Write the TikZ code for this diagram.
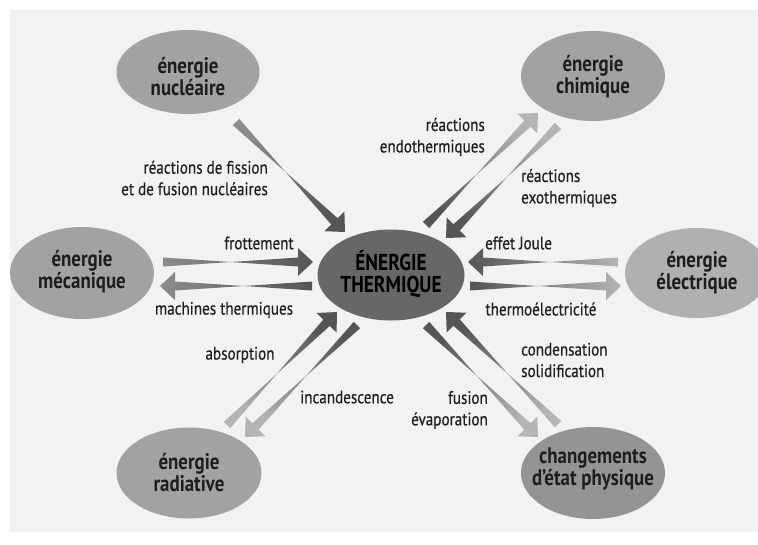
\documentclass[tikz,border=0pt]{standalone}
\usepackage{fontspec}
\setmainfont[FakeStretch=0.84]{PT Sans}
\newfontfamily\lblfont[FakeStretch=0.84, FakeBold=0.4]{PT Sans}
\usetikzlibrary{shapes.geometric,calc}
\definecolor{panel}{HTML}{F2F2F2}
\definecolor{bubble}{HTML}{A2A2A2}
\definecolor{bubbledark}{HTML}{949494}
\definecolor{central}{HTML}{676767}
\definecolor{txt}{HTML}{1E1E1E}
\definecolor{adark}{HTML}{555555}
\definecolor{amid}{HTML}{8C8C8C}
\definecolor{alight}{HTML}{B4B4B4}
% #1 from, #2 to, #3 colour at from, #4 colour at to, #5 shading angle
\newcommand\garrow[5]{%
  \coordinate (hb) at ($(#2)!15pt!(#1)$);
  \shade[shading=axis, top color=#4, bottom color=#3, shading angle=#5]
    ($(#1)!4.5pt!90:(#2)$) -- ($(hb)!4.5pt!-90:(#2)$) -- ($(hb)!14pt!-90:(#2)$)
    -- (#2) -- ($(hb)!14pt!90:(#2)$) -- ($(hb)!4.5pt!90:(#2)$)
    -- ($(#1)!4.5pt!-90:(#2)$) -- cycle;
}
\begin{document}
\begin{tikzpicture}[x=1pt,y=-1pt,
  ell/.style={ellipse, draw=none, fill=bubble, inner sep=0pt},
  ltxt/.style={font=\bfseries\fontsize{22.5}{22}\selectfont, text=txt, align=center, inner sep=0pt},
  ctxt/.style={font=\bfseries\fontsize{23}{22}\selectfont, text=black, align=center, inner sep=0pt},
  atxt/.style={font=\lblfont\fontsize{18}{21.5}\selectfont, text=txt, inner sep=0pt}]
\clip (0,0) rectangle (758,544);
\fill[white] (0,0) rectangle (758,544);
\fill[panel] (10,10) rectangle (758,532);

% bubbles
\node[ell, minimum width=143pt, minimum height=84pt] (nuc) at (188,72) {};
\node[ell, minimum width=144pt, minimum height=90pt] (chim) at (593,76) {};
\node[ell, minimum width=144pt, minimum height=92pt] (meca) at (82,273) {};
\node[ell, minimum width=144pt, minimum height=90pt, fill=bubble!85!white] (elec) at (697,273) {};
\node[ell, minimum width=145pt, minimum height=91pt] (rad) at (189,473) {};
\node[ell, minimum width=144pt, minimum height=92pt, fill=bubbledark] (chang) at (593,473) {};
\node[ell, minimum width=147pt, minimum height=91pt, fill=central] (therm) at (391,275) {};

\node[ltxt] (tnuc) at (188,77) {énergie\\nucléaire};
\node[ltxt] (tchim) at (593,77) {énergie\\chimique};
\node[ltxt] (tmeca) at (82,272) {énergie\\mécanique};
\node[ltxt] (telec) at (697,273) {énergie\\électrique};
\node[ltxt] (trad) at (189,473) {énergie\\radiative};
\node[ltxt] (tchang) at (593,469) {changements\\d’état physique};
\node[ctxt] (ttherm) at (391,274) {ÉNERGIE\\THERMIQUE};

% arrow end points
\coordinate (nucA) at (236,122);   \coordinate (nucB) at (345,232);
\coordinate (endA) at (426,225);   \coordinate (endB) at (538,113);
\coordinate (exoA) at (558,126);   \coordinate (exoB) at (446,238);
\coordinate (froA) at (163,262);   \coordinate (froB) at (313,262);
\coordinate (macA) at (312,286);   \coordinate (macB) at (160,286);
\coordinate (jouA) at (618,262);   \coordinate (jouB) at (468,262);
\coordinate (theA) at (470,286);   \coordinate (theB) at (621,286);
\coordinate (absA) at (227,425);   \coordinate (absB) at (337,312);
\coordinate (incA) at (357,325);   \coordinate (incB) at (245,437);
\coordinate (fusA) at (426,325);   \coordinate (fusB) at (538,437);
\coordinate (conA) at (558,424);   \coordinate (conB) at (446,312);

\garrow{nucA}{nucB}{amid}{adark}{-135}
\garrow{endA}{endB}{adark}{alight}{-45}
\garrow{exoA}{exoB}{alight}{adark}{135}
\garrow{froA}{froB}{amid}{adark}{-90}
\garrow{macA}{macB}{adark}{amid}{90}
\garrow{jouA}{jouB}{alight}{adark}{90}
\garrow{theA}{theB}{adark}{alight}{-90}
\garrow{absA}{absB}{alight}{adark}{-45}
\garrow{incA}{incB}{adark}{alight}{135}
\garrow{fusA}{fusB}{adark}{alight}{-135}
\garrow{conA}{conB}{alight}{adark}{45}

% labels
\node[atxt, anchor=east, align=right] (lfis) at (268,178) {réactions de fission\\et de fusion nucléaires};
\node[atxt] (lfro) at (259,243) {frottement};
\node[atxt] (lmac) at (224,310) {machines thermiques};
\node[atxt, anchor=east, align=right] (lend) at (485,137) {réactions\\endothermiques};
\node[atxt, anchor=west, align=left] (lexo) at (521,188) {réactions\\exothermiques};
\node[atxt, anchor=west] (ljou) at (485,243) {effet Joule};
\node[atxt] (lthe) at (541,309) {thermoélectricité};
\node[atxt] (labs) at (240,355) {absorption};
\node[atxt, anchor=west] (linc) at (300,397) {incandescence};
\node[atxt, anchor=west, align=left] (lcon) at (521,360) {condensation\\solidification};
\node[atxt, anchor=east, align=right] (lfus) at (488,410) {fusion\\évaporation};
\end{tikzpicture}
\end{document}
